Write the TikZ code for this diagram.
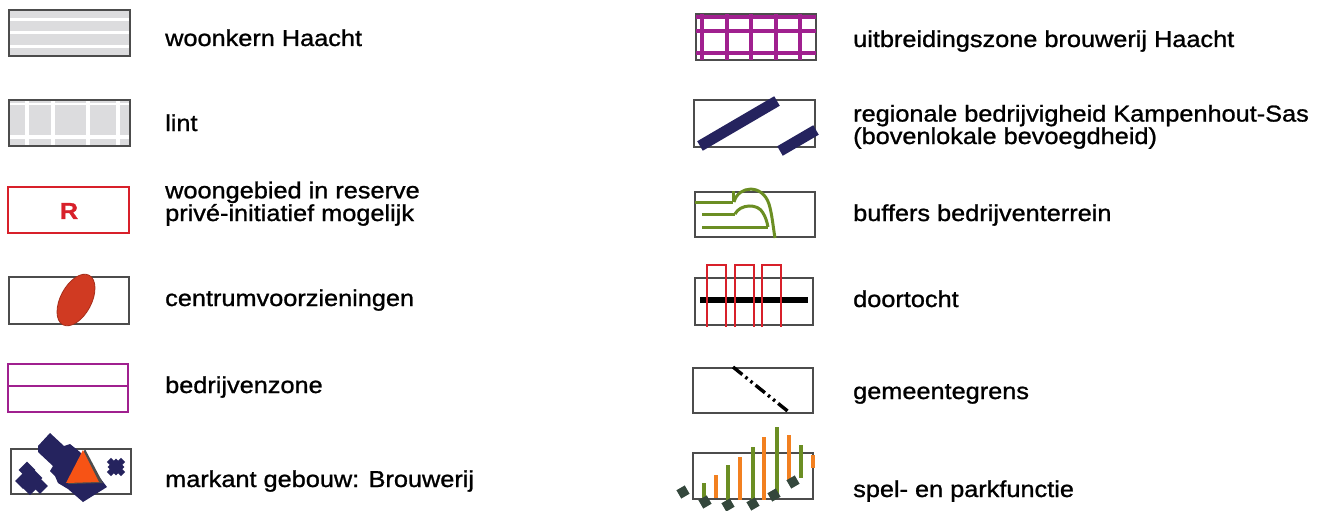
\documentclass[tikz,border=0pt]{standalone}
\usepackage{fontspec}
\setmainfont{Liberation Sans}[FakeStretch=1.1,FakeBold=1.1]
\begin{document}
\begin{tikzpicture}[x=1pt,y=-1pt,
  lbl/.style={anchor=base west,inner sep=0pt,font=\fontsize{23}{20.5}\selectfont,align=left},
  frame/.style={draw=black!70,line width=1.8pt},
]
\definecolor{navyc}{HTML}{25235E}
\definecolor{magc}{HTML}{A0208F}
\definecolor{redc}{HTML}{D8202A}
\definecolor{ellc}{HTML}{D03A22}
\definecolor{grnc}{HTML}{6B8E23}
\definecolor{orgc}{HTML}{F28020}
\definecolor{sqc}{HTML}{34473C}
\definecolor{lgray}{HTML}{DCDCDE}
\useasboundingbox (0,0) rectangle (1326,511);
\fill[white] (0,0) rectangle (1326,511);

% ---- left column ----
% woonkern
\fill[lgray] (9,10) rectangle (130,56);
\foreach \yy in {20,33,47} \fill[white] (9,\yy-1.5) rectangle (130,\yy+1.5);
\draw[frame] (9,10) rectangle (130,56);
\node[lbl] (t1) at (165,46) {woonkern Haacht};

% lint
\fill[lgray] (9,100) rectangle (130,146);
\foreach \xx in {27,53,88,118} \fill[white] (\xx-2,100) rectangle (\xx+2,146);
\fill[white] (9,135) rectangle (130,139);
\fill[white] (9,103) rectangle (130,105);
\draw[frame] (9,100) rectangle (130,146);
\node[lbl] (t2) at (165,131) {lint};

% R
\draw[redc,line width=1.8pt] (8,187) rectangle (129,233);
\node[text=redc,font=\fontsize{23}{23}\selectfont\bfseries,inner sep=0pt] (r) at (69,211) {R};
\node[lbl] (t3) at (165,221) {woongebied in reserve\\privé-initiatief mogelijk};

% centrum
\draw[frame] (9,277) rectangle (129,324);
\fill[ellc,draw=ellc!80!black,line width=0.8pt,rotate around={62:(76,300)}] (76,300) ellipse (28 and 15.5);
\node[lbl] (t4) at (165,306) {centrumvoorzieningen};

% bedrijvenzone
\draw[magc,line width=2.6pt] (8,364) rectangle (128,412);
\draw[magc,line width=2.6pt] (8,386) -- (128,386);
\node[lbl] (t5) at (165,393) {bedrijvenzone};

% markant gebouw
\draw[frame] (11,449) rectangle (131,494);
\fill[navyc] (38,446) -- (50,433) -- (64,446) -- (70,444) -- (80,452) -- (107,487) -- (83,502) -- (68,489) -- (58,483) -- (55,476) -- (50,471) -- (53,466) -- (38,452) -- cycle;
\fill[black!70] (85,449) -- (103,483) -- (68,484) -- cycle;
\fill[orgc!65!red] (83,450) -- (99,482) -- (66,483) -- cycle;
\foreach \cx/\cy/\s in {27/470/6,34/478/6,23/481/5.5,40/486/5.5,30/488/5,116/467/6,111/462/3,121/462/3,121/472/3,111/472/3}
  \fill[navyc,rotate around={45:(\cx,\cy)}] (\cx-\s,\cy-\s) rectangle (\cx+\s,\cy+\s);
\node[lbl] (t6) at (165,487) {markant gebouw: Brouwerij};

% ---- right column ----
% uitbreidingszone
\draw[frame] (696,14) rectangle (816,60);
\foreach \xx in {702,727,751,776,800} \draw[magc,line width=3.4pt] (\xx,14) -- (\xx,60);
\foreach \yy in {17,31,53} \draw[magc,line width=3.4pt] (696,\yy) -- (816,\yy);
\node[lbl] (t7) at (853,47) {uitbreidingszone brouwerij Haacht};

% regionale
\draw[frame] (694,100) rectangle (815,147);
\draw[navyc,line width=11pt] (700,146) -- (777,101);
\draw[navyc,line width=11pt] (780,151) -- (816,130);
\node[lbl] (t8) at (853,144) {regionale bedrijvigheid Kampenhout-Sas\\(bovenlokale bevoegdheid)};

% buffers
\draw[frame] (695,192) rectangle (815,237);
\begin{scope}[grnc,line width=3pt]
\draw (695,202) -- (733,202);
\draw (733,191) -- (733,202);
\draw (734,202) .. controls (738,186) and (762,183) .. (769,204) .. controls (772,214) and (773,226) .. (775,238);
\draw (702,214) -- (735,214);
\draw (735,214) .. controls (740,204) and (758,203) .. (763,213) .. controls (766,218) and (767,222) .. (768,227);
\draw (702,227) -- (768,227);
\end{scope}
\node[lbl] (t9) at (853,221) {buffers bedrijventerrein};

% doortocht
\draw[frame] (695,278) rectangle (813,325);
\draw[black,line width=6pt] (700,300) -- (808,300);
\foreach \xa in {707,735,762} \draw[redc,line width=1.4pt] (\xa,327) -- (\xa,265) -- (\xa+19,265) -- (\xa+19,327);
\node[lbl] (t10) at (853,307) {doortocht};

% gemeentegrens
\draw[frame] (693,368) rectangle (813,413);
\coordinate (g1) at (733,367);
\coordinate (g2) at (790,413);
\draw[black,line width=3.4pt,dash pattern=on 12pt off 4pt on 2.5pt off 4pt on 2.5pt off 4pt] (g1) -- (g2);
\node[lbl] (t11) at (853,399) {gemeentegrens};

% spel- en parkfunctie
\draw[frame] (693,453) rectangle (813,499);
\foreach \xx/\ta/\tb/\cc in {704/483/499/grnc,716/475/498/orgc,728/465/503/grnc,740/457/500/orgc,753/447/503/grnc,764/437/500/orgc,777/427/495/grnc,789/435/480/orgc,801/445/478/grnc,813/455/468/orgc}
  \draw[\cc,line width=3.2pt] (\xx,\ta) -- (\xx,\tb);
\foreach \cx/\cy in {683/492,705/502,728/505,753/504,774/495,793/482}
  \fill[sqc,rotate around={30:(\cx,\cy)}] (\cx-4.8,\cy-4.8) rectangle (\cx+4.8,\cy+4.8);
\node[lbl] (t12) at (853,497) {spel- en parkfunctie};
\end{tikzpicture}
\end{document}
